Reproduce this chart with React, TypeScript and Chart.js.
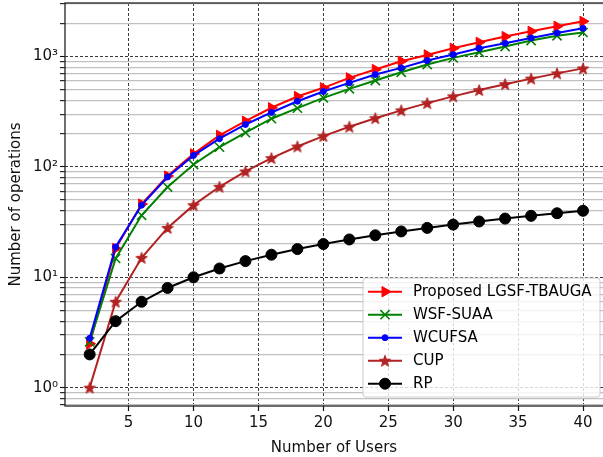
import React, { useEffect, useRef } from 'react';
import { Chart, registerables } from 'chart.js';
import { drawPoint } from 'chart.js/helpers';

Chart.register(...registerables);

// ---------------- data ----------------
const users = [2, 4, 6, 8, 10, 12, 14, 16, 18, 20, 22, 24, 26, 28, 30, 32, 34, 36, 38, 40];
const proposedLGSF = [2.5, 18.2, 46, 82.6, 131, 193, 259, 343, 434, 520, 640, 762, 906, 1033, 1186, 1343, 1514, 1690, 1876, 2080];
const wsfSuaa = [2.6, 14.8, 36.4, 65.6, 105, 151, 204, 273, 340, 422, 509, 606, 720, 845, 971, 1091, 1230, 1395, 1540, 1650];
const wcufsa = [2.8, 18.8, 45, 81, 127, 180, 242, 311, 393, 482, 577, 686, 788, 918, 1040, 1186, 1316, 1472, 1633, 1800];
const cup = [1, 6, 15, 28, 45, 66, 91, 120, 153, 190, 231, 276, 325, 378, 435, 496, 561, 630, 703, 780];
const rp = [2, 4, 6, 8, 10, 12, 14, 16, 18, 20, 22, 24, 26, 28, 30, 32, 34, 36, 38, 40];

const seriesLabels = ['Proposed LGSF-TBAUGA', 'WSF-SUAA', 'WCUFSA', 'CUP', 'RP'];
const xTickValues = [5, 10, 15, 20, 25, 30, 35, 40];
const yDecades = [-1, 0, 1, 2, 3];
const superscripts: Record<string, string> = { '-': '⁻', '0': '⁰', '1': '¹', '2': '²', '3': '³', '4': '⁴' };

const FONT_FAMILY = 'DejaVu Sans';
const FONT_SIZE = 15;
const CUP_COLOR = '#b22222';

function makeStar(r: number, color: string) {
  const size = Math.ceil(r * 2) + 2;
  const c = document.createElement('canvas');
  c.width = size;
  c.height = size;
  const g = c.getContext('2d')!;
  g.translate(size / 2, size / 2 + r * 0.1);
  g.beginPath();
  for (let k = 0; k < 10; k++) {
    const rad = k % 2 ? r * 0.42 : r;
    const a = -Math.PI / 2 + (k * Math.PI) / 5;
    g.lineTo(rad * Math.cos(a), rad * Math.sin(a));
  }
  g.closePath();
  g.fillStyle = color;
  g.fill();
  g.strokeStyle = color;
  g.lineWidth = 1;
  g.stroke();
  return c;
}

const isMajor = (v: number) => {
  const l = Math.log10(v);
  return Math.abs(l - Math.round(l)) < 1e-9;
};

const framePlugin = {
  id: 'frame',
  afterDatasetsDraw(chart: any) {
    const { ctx, chartArea } = chart;
    ctx.save();
    ctx.strokeStyle = '#222';
    ctx.lineWidth = 1.3;
    ctx.strokeRect(chartArea.left, chartArea.top, chartArea.right - chartArea.left + 4, chartArea.bottom - chartArea.top);
    ctx.restore();
  },
};

const legendPlugin = {
  id: 'mplLegend',
  afterDraw(chart: any) {
    const { ctx, chartArea } = chart;
    const w = 237;
    const h = 119;
    const right = chartArea.right - 3;
    const bottom = chartArea.bottom - 9;
    const left = right - w;
    const top = bottom - h;
    ctx.save();
    ctx.beginPath();
    const rr = 3;
    ctx.moveTo(left + rr, top);
    ctx.lineTo(right - rr, top);
    ctx.quadraticCurveTo(right, top, right, top + rr);
    ctx.lineTo(right, bottom - rr);
    ctx.quadraticCurveTo(right, bottom, right - rr, bottom);
    ctx.lineTo(left + rr, bottom);
    ctx.quadraticCurveTo(left, bottom, left, bottom - rr);
    ctx.lineTo(left, top + rr);
    ctx.quadraticCurveTo(left, top, left + rr, top);
    ctx.closePath();
    ctx.fillStyle = 'rgba(255,255,255,0.8)';
    ctx.fill();
    ctx.strokeStyle = '#cccccc';
    ctx.lineWidth = 1;
    ctx.stroke();

    chart.data.datasets.forEach((ds: any, i: number) => {
      const cy = top + 13.7 + i * 23;
      ctx.strokeStyle = ds.borderColor;
      ctx.lineWidth = ds.borderWidth;
      ctx.beginPath();
      ctx.moveTo(left + 5, cy);
      ctx.lineTo(left + 39, cy);
      ctx.stroke();
      ctx.fillStyle = ds.pointBackgroundColor;
      ctx.strokeStyle = ds.pointBorderColor;
      ctx.lineWidth = ds.pointBorderWidth;
      drawPoint(ctx, { pointStyle: ds.pointStyle, rotation: ds.pointRotation || 0, radius: ds.pointRadius, borderWidth: ds.pointBorderWidth }, left + 22, cy);
      ctx.fillStyle = '#000';
      ctx.font = `${FONT_SIZE}px "${FONT_FAMILY}"`;
      ctx.textBaseline = 'middle';
      ctx.textAlign = 'left';
      ctx.fillText(ds.label, left + 50, cy + 0.5);
    });
    ctx.restore();
  },
};

export default function App() {
  const ref = useRef<HTMLCanvasElement>(null);

  useEffect(() => {
    document.body.style.margin = '0';
    document.body.style.overflow = 'hidden';
    const canvas = ref.current!;
    const star = makeStar(6, CUP_COLOR);
    const font = { family: FONT_FAMILY, size: FONT_SIZE };

    const yTickValues: number[] = [];
    yDecades.forEach((e) => {
      for (let m = 1; m <= 9; m++) yTickValues.push(Number((m * Math.pow(10, e)).toPrecision(12)));
    });
    const yMin = 0.682;
    const yMax = 3050;

    const mk = (arr: number[]) => users.map((x, i) => ({ x, y: arr[i] }));

    const chart = new Chart(canvas, {
      type: 'line',
      data: {
        datasets: [
          {
            label: seriesLabels[0], data: mk(proposedLGSF), borderColor: '#ff0000', backgroundColor: '#ff0000',
            pointBackgroundColor: '#ff0000', pointBorderColor: '#ff0000', borderWidth: 2, pointStyle: 'triangle',
            pointRotation: 90, pointRadius: 6, pointBorderWidth: 1, order: 5,
          },
          {
            label: seriesLabels[1], data: mk(wsfSuaa), borderColor: '#008000', backgroundColor: '#008000',
            pointBackgroundColor: '#008000', pointBorderColor: '#008000', borderWidth: 2, pointStyle: 'crossRot',
            pointRadius: 6.5, pointBorderWidth: 1.6, order: 4,
          },
          {
            label: seriesLabels[2], data: mk(wcufsa), borderColor: '#0000ff', backgroundColor: '#0000ff',
            pointBackgroundColor: '#0000ff', pointBorderColor: '#0000ff', borderWidth: 2, pointStyle: 'circle',
            pointRadius: 3, pointBorderWidth: 1, order: 3,
          },
          {
            label: seriesLabels[3], data: mk(cup), borderColor: CUP_COLOR, backgroundColor: CUP_COLOR,
            pointBackgroundColor: CUP_COLOR, pointBorderColor: CUP_COLOR, borderWidth: 2, pointStyle: star as any,
            pointRadius: 6, pointBorderWidth: 1, order: 2,
          },
          {
            label: seriesLabels[4], data: mk(rp), borderColor: '#000000', backgroundColor: '#000000',
            pointBackgroundColor: '#000000', pointBorderColor: '#000000', borderWidth: 2, pointStyle: 'circle',
            pointRadius: 5.5, pointBorderWidth: 1, order: 1,
          },
        ] as any,
      },
      options: {
        responsive: false,
        animation: false,
        devicePixelRatio: 1,
        layout: { autoPadding: false, padding: { top: 3, right: 0, left: 0, bottom: 0 } },
        plugins: { legend: { display: false }, tooltip: { enabled: false } },
        elements: { line: { tension: 0 } },
        scales: {
          x: {
            type: 'linear',
            bounds: 'data',
            min: 0.1,
            max: 41.54,
            afterBuildTicks: (s: any) => {
              s.ticks = xTickValues.map((v) => ({ value: v }));
            },
            afterFit: (s: any) => {
              s.height = 51;
              s.paddingLeft = 0;
              s.paddingRight = 0;
            },
            ticks: {
              font, color: '#111', padding: 3, maxRotation: 0, autoSkip: false,
              callback: (v: any) => String(v),
            },
            grid: { color: '#3a3a3a', lineWidth: 1, tickLength: 5, tickColor: '#111', tickWidth: 1.2 },
            border: { display: false, dash: [3, 2] },
            title: { display: true, text: 'Number of Users', font, color: '#111', padding: { top: 0, bottom: 0 } },
          },
          y: {
            type: 'logarithmic',
            bounds: 'data',
            min: yMin,
            max: yMax,
            afterBuildTicks: (s: any) => {
              s.ticks = yTickValues.filter((v) => v >= yMin && v <= yMax).map((v) => ({ value: v }));
            },
            afterFit: (s: any) => {
              s.width = 65;
              s.paddingTop = 0;
              s.paddingBottom = 0;
            },
            ticks: {
              font, color: '#111', padding: 2, autoSkip: false,
              callback: (v: any) => {
                const n = Number(v);
                if (!isMajor(n)) return '';
                const e = String(Math.round(Math.log10(n)));
                return '10' + e.split('').map((c) => superscripts[c] || c).join('');
              },
            },
            grid: {
              color: (ctx: any) => (ctx.tick && isMajor(ctx.tick.value) ? '#3a3a3a' : '#c0c0c0'),
              lineWidth: (ctx: any) => (ctx.tick && isMajor(ctx.tick.value) ? 1 : 1.3),
              tickLength: 5,
              tickColor: '#111',
              tickWidth: 1.1,
            },
            border: {
              display: false,
              dash: (ctx: any) => (ctx.tick && isMajor(ctx.tick.value) ? [3, 2] : []),
            },
            title: { display: true, text: 'Number of operations', font, color: '#111', padding: { top: 7, bottom: 0 } },
          },
        },
      } as any,
      plugins: [framePlugin, legendPlugin],
    });
    return () => chart.destroy();
  }, []);

  return (
    <div style={{ width: 603, height: 457 }}>
      <canvas ref={ref} width={603} height={457} style={{ display: 'block' }} />
    </div>
  );
}
